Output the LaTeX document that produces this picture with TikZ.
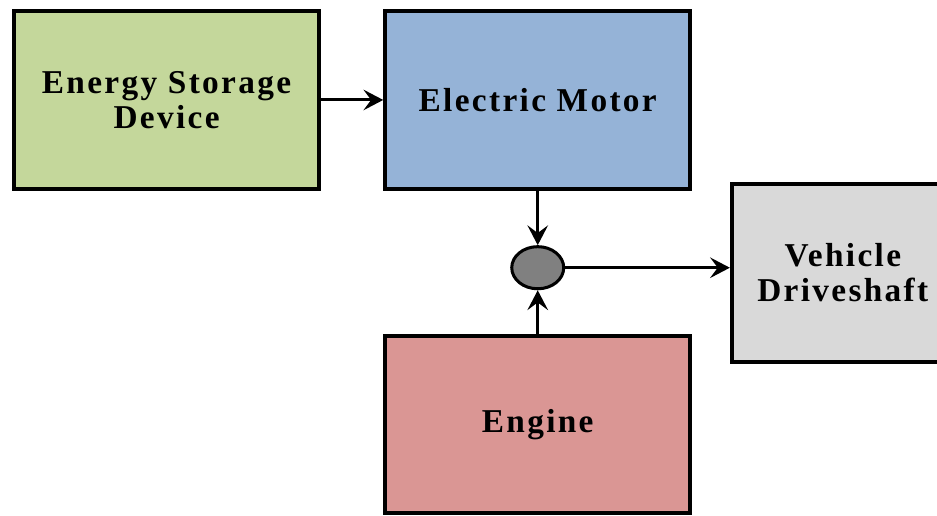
\documentclass[tikz,border=0pt]{standalone}
\usepackage{fontspec}
\newfontfamily\blockfont{Liberation Serif}[LetterSpace=7]
\usepackage{tikz}
\usetikzlibrary{arrows.meta, positioning, calc, shapes.geometric}

\definecolor{storegreen}{RGB}{196,215,155}
\definecolor{motorblue}{RGB}{149,179,215}
\definecolor{enginered}{RGB}{218,150,148}
\definecolor{shaftgray}{RGB}{217,217,217}
\definecolor{jointgray}{RGB}{128,128,128}

\begin{document}
\begin{tikzpicture}[
        block/.style={rectangle, draw, line width=1.05mm, minimum width=80.4mm, minimum height=46.9mm,
            align=center, font=\blockfont\bfseries\fontsize{25}{26.25}\selectfont},
        joint/.style={ellipse, draw, line width=0.8mm, fill=jointgray, minimum width=13.7mm,
            minimum height=11.1mm, inner sep=0pt},
        arr/.style={-{Stealth[length=5.2mm, width=5.4mm, inset=2mm]}, line width=0.8mm},
        node distance=16.4mm
    ]
        % page frame, store block sits at the origin
        \useasboundingbox (-43.9mm,26.35mm) rectangle +(247.0mm,-136.0mm);

        \node[block, fill=storegreen] (store) at (0,0) {Energy Storage\\Device};
        \node[block, fill=motorblue, right=of store] (motor) {Electric Motor};
        \node[joint, below=14.3mm of motor] (sum) {};
        \node[block, fill=enginered, below=11.4mm of sum] (engine) {Engine};
        \node[block, fill=shaftgray, minimum width=58.5mm, right=43.4mm of sum, yshift=-1.3mm] (shaft) {Vehicle\\Driveshaft};

        \draw[arr] (store) -- (motor);
        \draw[arr] (motor) -- (sum);
        \draw[arr] (engine) -- (sum);
        \draw[arr] (sum) -- (sum -| shaft.west);
    \end{tikzpicture}
\end{document}
